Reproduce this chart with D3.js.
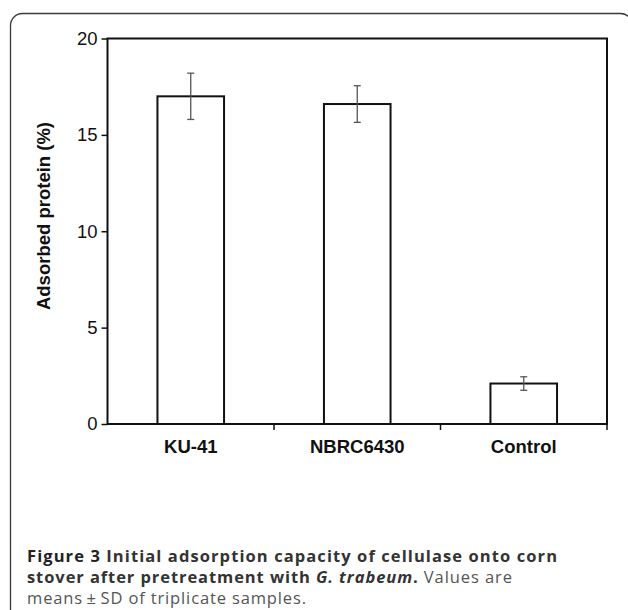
<!DOCTYPE html>
<html>
<head>
<meta charset="utf-8">
<script src="https://cdn.jsdelivr.net/npm/d3@7"></script>
<style>
  body { margin: 0; background: #fff; }
  svg { display: block; }
  .caption { font-family: "Open Sans", sans-serif; font-size: 16.5px; }
</style>
</head>
<body>
<div id="chart"></div>
<script>
var categories = ["KU-41", "NBRC6430", "Control"];
var means = [17.0, 16.6, 2.1];
var sds = [1.2, 0.95, 0.35];
var yTicks = [0, 5, 10, 15, 20];

var w = 628, h = 610;
var margin = {top: 38.5, right: 21, bottom: 186, left: 107.5};

var svg = d3.select("#chart").append("svg")
  .attr("width", w)
  .attr("height", h);

// outer frame with rounded corner
svg.append("rect")
  .attr("x", 10.5).attr("y", 13.5)
  .attr("width", 622).attr("height", 640)
  .attr("rx", 12)
  .attr("fill", "none")
  .attr("stroke", "#3a3a3a")
  .attr("stroke-width", 1.3);

var x = d3.scaleBand()
  .domain(categories)
  .range([margin.left, w - margin.right])
  .paddingInner(0.6)
  .paddingOuter(0.3);

var xEdges = d3.scaleBand()
  .domain(categories)
  .range([margin.left, w - margin.right]);

var y = d3.scaleLinear()
  .domain([0, 20])
  .range([h - margin.bottom, margin.top]);

var data = categories.map(function(c, i) {
  return {name: c, mean: means[i], sd: sds[i]};
});

// bars
svg.selectAll(".bar").data(data).enter().append("rect")
  .attr("class", "bar")
  .attr("x", function(d) { return x(d.name); })
  .attr("y", function(d) { return y(d.mean); })
  .attr("width", x.bandwidth())
  .attr("height", function(d) { return y(0) - y(d.mean); })
  .attr("fill", "#fff")
  .attr("stroke", "#111")
  .attr("stroke-width", 2);

// error bars
var eb = svg.selectAll(".err").data(data).enter().append("g")
  .attr("class", "err")
  .attr("stroke", "#555")
  .attr("stroke-width", 1.3);
eb.append("line")
  .attr("x1", function(d) { return x(d.name) + x.bandwidth() / 2; })
  .attr("x2", function(d) { return x(d.name) + x.bandwidth() / 2; })
  .attr("y1", function(d) { return y(d.mean + d.sd); })
  .attr("y2", function(d) { return y(d.mean - d.sd); });
[1, -1].forEach(function(s) {
  eb.append("line")
    .attr("x1", function(d) { return x(d.name) + x.bandwidth() / 2 - 3.5; })
    .attr("x2", function(d) { return x(d.name) + x.bandwidth() / 2 + 3.5; })
    .attr("y1", function(d) { return y(d.mean + s * d.sd); })
    .attr("y2", function(d) { return y(d.mean + s * d.sd); });
});

// plot frame
svg.append("rect")
  .attr("x", margin.left).attr("y", margin.top)
  .attr("width", w - margin.right - margin.left)
  .attr("height", y(0) - margin.top)
  .attr("fill", "none")
  .attr("stroke", "#111")
  .attr("stroke-width", 2);

// y axis
var yAxis = svg.append("g")
  .attr("transform", "translate(" + margin.left + ",0)")
  .call(d3.axisLeft(y).tickValues(yTicks).tickSize(6).tickPadding(4));
yAxis.select(".domain").remove();
yAxis.selectAll(".tick line").attr("stroke", "#111").attr("stroke-width", 1.5);
yAxis.selectAll("text")
  .attr("font-family", "Liberation Sans, Arial, sans-serif")
  .attr("font-size", 18.5)
  .attr("fill", "#111");

// x axis: ticks at band edges, labels at centres
var edges = categories.map(function(c) { return xEdges(c) + xEdges.bandwidth(); });
svg.append("g").selectAll("line").data(edges).enter().append("line")
  .attr("x1", function(d) { return d; })
  .attr("x2", function(d) { return d; })
  .attr("y1", y(0))
  .attr("y2", y(0) + 6)
  .attr("stroke", "#111")
  .attr("stroke-width", 1.5);

svg.append("g").selectAll("text").data(categories).enter().append("text")
  .attr("x", function(c) { return x(c) + x.bandwidth() / 2; })
  .attr("y", y(0) + 29)
  .attr("text-anchor", "middle")
  .attr("font-family", "Liberation Sans, Arial, sans-serif")
  .attr("font-weight", "bold")
  .attr("font-size", 18.5)
  .attr("fill", "#111")
  .text(function(c) { return c; });

// y label
svg.append("text")
  .attr("transform", "translate(50,216) rotate(-90)")
  .attr("text-anchor", "middle")
  .attr("font-family", "Liberation Sans, Arial, sans-serif")
  .attr("font-weight", "bold")
  .attr("font-size", 18.5)
  .attr("fill", "#111")
  .text("Adsorbed protein (%)");

// caption, one text per line
var l1 = svg.append("text").attr("class", "caption")
  .attr("x", 27).attr("y", 562)
  .attr("textLength", 530).attr("lengthAdjust", "spacing");
l1.append("tspan").attr("font-weight", "bold").attr("fill", "#222").text("Figure 3 ");
l1.append("tspan").attr("font-weight", "bold").attr("fill", "#333").text("Initial adsorption capacity of cellulase onto corn");

var l2 = svg.append("text").attr("class", "caption")
  .attr("x", 27).attr("y", 583)
  .attr("textLength", 485).attr("lengthAdjust", "spacing");
l2.append("tspan").attr("font-weight", "bold").attr("fill", "#333").text("stover after pretreatment with ");
l2.append("tspan").attr("font-weight", "bold").attr("font-style", "italic").attr("fill", "#333").text("G. trabeum");
l2.append("tspan").attr("font-weight", "bold").attr("fill", "#333").text(". ");
l2.append("tspan").attr("fill", "#555").text("Values are");

svg.append("text").attr("class", "caption")
  .attr("x", 27).attr("y", 604)
  .attr("textLength", 279).attr("lengthAdjust", "spacing")
  .attr("fill", "#555")
  .text("means\u2009\u00b1\u2009SD of triplicate samples.");
</script>
</body>
</html>
